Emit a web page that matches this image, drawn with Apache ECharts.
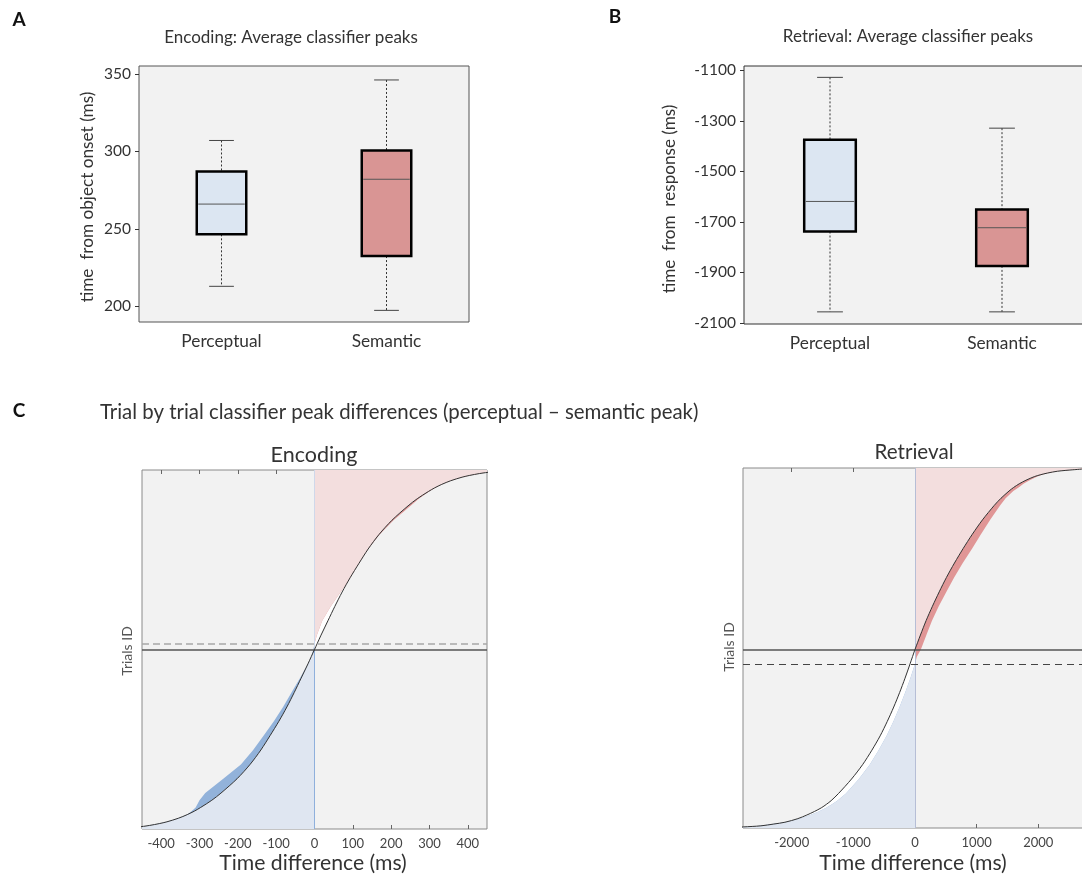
<!DOCTYPE html>
<html><head><meta charset="utf-8">
<script src="https://cdn.jsdelivr.net/npm/echarts@6/dist/echarts.min.js"></script>
<style>html,body{margin:0;padding:0;background:#fff}#c{width:1082px;height:879px}</style>
</head><body><div id="c"></div>
<script>
// ---------- Panels A & B: box plots ----------
const boxCategories = ['Perceptual', 'Semantic'];
// [low whisker, Q1, median, Q3, high whisker]
const encodingPerceptual = [213, 246.5, 266, 287, 307];
const encodingSemantic = [197.5, 232.5, 282, 300.5, 346];
const retrievalPerceptual = [-2056, -1738, -1619, -1375, -1128];
const retrievalSemantic = [-2056, -1874, -1723, -1651, -1329];
const encodingBoxTicks = [200, 250, 300, 350];
const retrievalBoxTicks = [-2100, -1900, -1700, -1500, -1300, -1100];

// ---------- Panel C: sorted trial differences ----------
// percent of trials (y), fitted curve x, observed data x
const encPct   = [0, 0.5, 1, 1.5, 2, 3, 4, 5, 6, 8, 10, 14, 18, 22, 26, 30, 34, 38, 42, 46, 48, 50, 51.6, 54, 58, 62, 66, 70, 74, 78, 82, 86, 90, 92, 94, 95, 96, 97, 98, 98.5, 99, 99.5, 100];
const encCurve = [-500, -462, -430, -405, -385, -355, -332, -313, -297, -268, -244, -202, -168, -140, -116, -93, -72, -53, -35, -17, -8.5, 0, 6.8, 17, 35, 53, 72, 93, 116, 140, 168, 202, 244, 268, 297, 313, 332, 355, 385, 405, 430, 462, 500];
const encData  = [-500, -462, -430, -405, -385, -355, -333, -320, -310, -300, -285, -238, -192, -160, -133, -106, -82, -60, -38, -17, -8, -3, 0, 6, 20, 42, 68, 93, 116, 140, 170, 206, 250, 272, 299, 314, 332, 355, 385, 405, 430, 462, 500];
const encCurveCross = 50;
const encDataCross = 51.6;
const encXTicks = [-400, -300, -200, -100, 0, 100, 200, 300, 400];

const retPct   = [0, 0.3, 0.6, 1.1, 1.6, 2.6, 3.6, 4.6, 5.6, 6.6, 7.6, 9.6, 13.6, 17.6, 21.6, 25.6, 29.6, 33.6, 37.6, 41.6, 45.6, 47.6, 49.6, 51.6, 53.6, 57.6, 61.6, 65.6, 69.6, 73.6, 77.6, 81.6, 85.6, 89.6, 91.6, 93.6, 94.6, 95.6, 96.6, 97.6, 98.1, 98.6, 99.1, 99.5, 100];
const retCurve = [-3100, -2783, -2500, -2290, -2110, -1900, -1755, -1630, -1520, -1435, -1360, -1240, -1030, -850, -700, -565, -450, -345, -250, -162, -80, -40, 0, 44, 88, 180, 283, 393, 510, 640, 780, 930, 1095, 1285, 1395, 1525, 1600, 1690, 1800, 1935, 2030, 2150, 2310, 2560, 2950];
const retData  = [-3100, -2783, -2520, -2310, -2110, -1870, -1700, -1560, -1440, -1345, -1260, -1120, -910, -735, -590, -460, -350, -250, -160, -75, 0, 30, 95, 140, 185, 275, 385, 510, 635, 775, 925, 1070, 1220, 1380, 1470, 1595, 1680, 1760, 1860, 1975, 2060, 2165, 2310, 2560, 2950];
const retCurveCross = 49.6;
const retDataCross = 45.6;
const retXTicks = [-2000, -1000, 0, 1000, 2000];

const FONT = "Lato, 'Open Sans', sans-serif";
const boxColors = ['#dce6f2', '#d99594'];
const trialColors = {darkNeg: '#92b2da', darkPos: '#e09696', lightNeg: '#dfe6f1', lightPos: '#f3dede'};

function boxRender(params, api) {
  const ci = api.value(0);
  const lo = api.coord([ci, api.value(1)]);
  const q1 = api.coord([ci, api.value(2)]);
  const md = api.coord([ci, api.value(3)]);
  const q3 = api.coord([ci, api.value(4)]);
  const hi = api.coord([ci, api.value(5)]);
  const band = api.size([1, 0])[0];
  const bw = band * 0.3, cw = bw * 0.5, cx = lo[0];
  const dash = {stroke: '#333', lineWidth: 1, lineDash: [2, 2]};
  const cap = {stroke: '#444', lineWidth: 1};
  return {type: 'group', children: [
    {type: 'line', shape: {x1: cx, y1: hi[1], x2: cx, y2: q3[1]}, style: dash},
    {type: 'line', shape: {x1: cx, y1: q1[1], x2: cx, y2: lo[1]}, style: dash},
    {type: 'line', shape: {x1: cx - cw / 2, y1: hi[1], x2: cx + cw / 2, y2: hi[1]}, style: cap},
    {type: 'line', shape: {x1: cx - cw / 2, y1: lo[1], x2: cx + cw / 2, y2: lo[1]}, style: cap},
    {type: 'rect', shape: {x: cx - bw / 2, y: q3[1], width: bw, height: q1[1] - q3[1]},
      style: {fill: boxColors[params.dataIndex], stroke: '#000', lineWidth: 2.5}},
    {type: 'line', shape: {x1: cx - bw / 2 + 1.5, y1: md[1], x2: cx + bw / 2 - 1.5, y2: md[1]},
      style: {stroke: '#555', lineWidth: 1}}
  ]};
}

function trialRender(pct, curve, data, xMin, xMax) {
  return function (params, api) {
    const clampX = v => Math.max(xMin, Math.min(xMax, v));
    const poly = vals => {
      const pts = pct.map((p, i) => api.coord([clampX(vals[i]), p]));
      pts.push(api.coord([0, pct[pct.length - 1]]));
      pts.push(api.coord([0, pct[0]]));
      return pts;
    };
    const core = curve.map((c, i) => c * data[i] > 0 ? Math.sign(c) * Math.min(Math.abs(c), Math.abs(data[i])) : 0);
    const neg = a => a.map(v => Math.min(v, 0));
    const pos = a => a.map(v => Math.max(v, 0));
    const mk = (vals, fill) => ({type: 'polygon', shape: {points: poly(vals)}, style: {fill: fill, stroke: null}});
    return {type: 'group', children: [
      mk(curve, '#ffffff'),
      mk(neg(data), trialColors.darkNeg),
      mk(pos(data), trialColors.darkPos),
      mk(neg(core), trialColors.lightNeg),
      mk(pos(core), trialColors.lightPos)
    ]};
  };
}

const plainNum = v => String(v);
const gridBase = {show: true, backgroundColor: '#f2f2f2', borderWidth: 1, containLabel: false, outerBoundsMode: 'none'};
const boxYAxis = (gi, min, max, ticks) => ({
  gridIndex: gi, type: 'value', min: min, max: max, splitLine: {show: false},
  axisLine: {show: false},
  axisTick: {show: true, customValues: ticks, length: 4, inside: false, lineStyle: {color: '#333'}},
  axisLabel: {customValues: ticks, formatter: plainNum, fontSize: 15.5, color: '#333', margin: 8, fontFamily: FONT}
});
const boxXAxis = gi => ({
  gridIndex: gi, type: 'category', data: boxCategories, axisTick: {show: false}, axisLine: {show: false},
  axisLabel: {fontSize: 17.3, color: '#333', margin: 11, fontFamily: FONT}
});
const trialXAxis = (gi, min, max, ticks, top) => ({
  gridIndex: gi, type: 'value', min: min, max: max, position: top ? 'top' : 'bottom',
  splitLine: {show: false}, axisLine: {show: false},
  axisTick: {show: true, inside: true, length: 4, customValues: ticks, lineStyle: {color: '#666'}},
  axisLabel: top ? {show: false} : {customValues: ticks, formatter: plainNum, fontSize: 13, color: '#444', margin: 8, fontFamily: FONT}
});
const trialYAxis = gi => ({gridIndex: gi, type: 'value', min: 0, max: 100, splitLine: {show: false},
  axisLine: {show: false}, axisTick: {show: false}, axisLabel: {show: false}});

function curveSeries(xi, yi, pct, curve, marks) {
  return {
    type: 'line', xAxisIndex: xi, yAxisIndex: yi, data: pct.map((p, i) => [curve[i], p]),
    smooth: 0.3, showSymbol: false, symbol: 'none', clip: true,
    lineStyle: {color: '#333', width: 1}, emphasis: {disabled: true}, silent: true, z: 5,
    markLine: {silent: true, symbol: ['none', 'none'], label: {show: false}, animation: false, data: marks}
  };
}

function txt(text, x, y, size, opts) {
  opts = opts || {};
  return {type: 'text', x: x, y: y, rotation: opts.rot || 0, silent: true,
    style: {text: text, font: (opts.weight || 'normal') + ' ' + size + 'px ' + (opts.family || FONT),
      fill: opts.color || '#333', textAlign: opts.align || 'center', textVerticalAlign: 'middle',
      align: opts.align || 'center', verticalAlign: 'middle'}};
}

const option = {
  animation: false,
  backgroundColor: '#ffffff',
  grid: [
    Object.assign({}, gridBase, {left: 139, top: 66, width: 330, height: 256, borderColor: '#555'}),
    Object.assign({}, gridBase, {left: 744, top: 66, width: 344, height: 258, borderColor: '#333'}),
    Object.assign({}, gridBase, {left: 142, top: 470, width: 345, height: 359, borderColor: '#8a8a8a'}),
    Object.assign({}, gridBase, {left: 743, top: 468, width: 344, height: 360, borderColor: '#8a8a8a'})
  ],
  xAxis: [
    boxXAxis(0), boxXAxis(1),
    trialXAxis(2, -450, 450, encXTicks, false), trialXAxis(2, -450, 450, encXTicks, true),
    trialXAxis(3, -2790, 2790, retXTicks, false), trialXAxis(3, -2790, 2790, retXTicks, true)
  ],
  yAxis: [
    boxYAxis(0, 190, 355, encodingBoxTicks),
    boxYAxis(1, -2104, -1083, retrievalBoxTicks),
    trialYAxis(2), trialYAxis(3)
  ],
  series: [
    {type: 'custom', xAxisIndex: 0, yAxisIndex: 0, renderItem: boxRender, silent: true,
      encode: {x: 0, y: [1, 2, 3, 4, 5]},
      data: [[0].concat(encodingPerceptual), [1].concat(encodingSemantic)]},
    {type: 'custom', xAxisIndex: 1, yAxisIndex: 1, renderItem: boxRender, silent: true,
      encode: {x: 0, y: [1, 2, 3, 4, 5]},
      data: [[0].concat(retrievalPerceptual), [1].concat(retrievalSemantic)]},
    {type: 'custom', xAxisIndex: 2, yAxisIndex: 2, clip: true, silent: true,
      renderItem: trialRender(encPct, encCurve, encData, -450, 450), encode: {x: 0, y: 1}, data: [[0, 50]]},
    curveSeries(2, 2, encPct, encCurve, [
      [{coord: [0, 0], lineStyle: {color: '#8fb0dc', width: 1, type: 'solid'}}, {coord: [0, encCurveCross]}],
      [{coord: [0, encCurveCross], lineStyle: {color: '#cfd8ea', width: 1, type: 'solid'}}, {coord: [0, 100]}],
      {yAxis: encDataCross, lineStyle: {color: '#a8a8a8', width: 1.5, type: [7, 4]}},
      {yAxis: encCurveCross, lineStyle: {color: '#555', width: 1.5, type: 'solid'}}
    ]),
    {type: 'custom', xAxisIndex: 4, yAxisIndex: 3, clip: true, silent: true,
      renderItem: trialRender(retPct, retCurve, retData, -2790, 2790), encode: {x: 0, y: 1}, data: [[0, 50]]},
    curveSeries(4, 3, retPct, retCurve, [
      [{coord: [0, 0], lineStyle: {color: '#b6bed6', width: 1, type: 'solid'}}, {coord: [0, 100]}],
      {yAxis: retDataCross, lineStyle: {color: '#444', width: 1, type: [7, 5]}},
      {yAxis: retCurveCross, lineStyle: {color: '#555', width: 1.5, type: 'solid'}}
    ])
  ],
  graphic: [
    txt('A', 19, 20, 19, {weight: 'bold', color: '#111'}),
    txt('B', 615, 17, 19, {weight: 'bold', color: '#111'}),
    txt('C', 19, 411, 19, {weight: 'bold', color: '#111'}),
    txt('Encoding: Average classifier peaks', 291, 38, 17),
    txt('Retrieval: Average classifier peaks', 908, 37, 17),
    txt('time  from object onset (ms)', 87, 197, 17.2, {rot: Math.PI / 2}),
    txt('time  from  response (ms)', 669, 199, 17.1, {rot: Math.PI / 2}),
    txt('Trial by trial classifier peak differences (perceptual \u2013 semantic peak)', 100, 412, 20.4, {align: 'left'}),
    txt('Encoding', 314, 455, 21.5),
    txt('Retrieval', 914, 452, 20.6),
    txt('Time difference (ms)', 313, 863, 21.2),
    txt('Time difference (ms)', 913, 863, 21.2),
    txt('Trials ID', 127, 651, 14, {rot: Math.PI / 2, color: '#555'}),
    txt('Trials ID', 729, 647, 14, {rot: Math.PI / 2, color: '#555'})
  ]
};

const chart = echarts.init(document.getElementById('c'), null, {renderer: 'canvas', width: 1082, height: 879});
chart.setOption(option);
</script>
</body></html>
